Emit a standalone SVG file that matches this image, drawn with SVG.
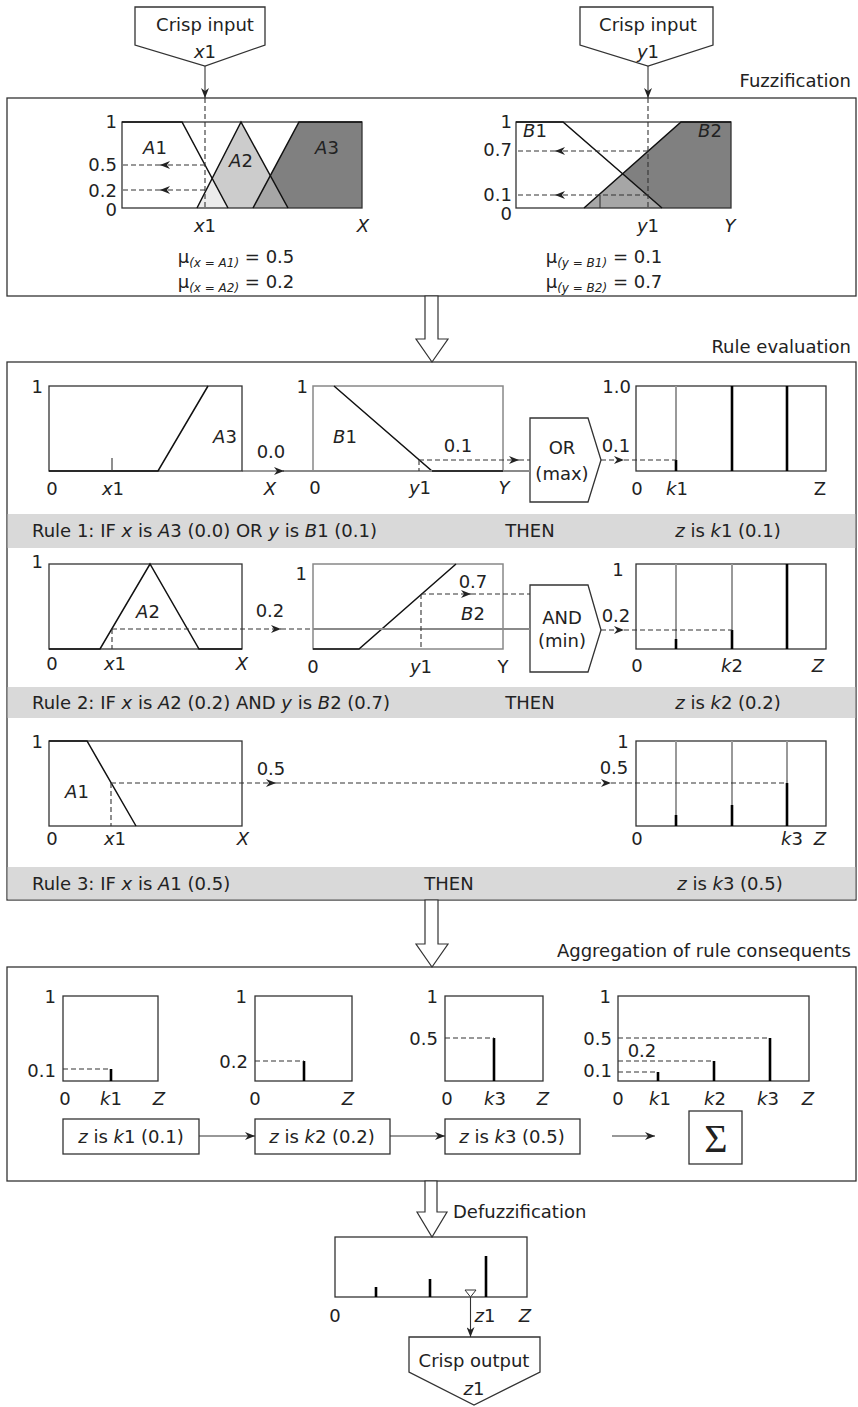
<svg xmlns="http://www.w3.org/2000/svg" width="858" height="1407" viewBox="0 0 858 1407">
<defs>
<marker id="ah" viewBox="0 0 10 8" refX="10" refY="4" markerWidth="10" markerHeight="8" markerUnits="userSpaceOnUse" orient="auto"><path d="M0,0 L10,4 L0,8 L3,4 z" fill="#222"/></marker>
<style>
text{font-family:"DejaVu Sans",sans-serif;font-size:18px;fill:#222}
.m{text-anchor:middle}.e{text-anchor:end}
.i{font-style:italic}
.sub{font-size:12px;font-style:italic}
.frame{fill:#fff;stroke:#333;stroke-width:1.3}
.chart{fill:none;stroke:#333;stroke-width:1.3}
.gchart{fill:none;stroke:#888;stroke-width:1.5}
.mf{fill:none;stroke:#111;stroke-width:1.5}
.dash{fill:none;stroke:#333;stroke-width:1.1;stroke-dasharray:5 3}
.sol{fill:none;stroke:#333;stroke-width:1.1}
.gl{fill:none;stroke:#8a8a8a;stroke-width:2}
.gv{stroke:#999;stroke-width:2}
.bar{stroke:#000;stroke-width:2.6}
.band{fill:#d9d9d9}
.hollow{fill:#fff;stroke:#333;stroke-width:1.2}
</style>
</defs>
<rect width="858" height="1407" fill="#fff"/>

<!-- Crisp inputs -->
<g id="input-x1">
<polygon class="frame" points="135,7 265,7 265,45 205,66 135,45"/>
<text class="m" x="205" y="31">Crisp input</text>
<text class="m" x="205" y="58"><tspan class="i">x</tspan>1</text>
</g>
<g id="input-y1">
<polygon class="frame" points="580,7 713,7 713,45 648,66 580,45"/>
<text class="m" x="648" y="31">Crisp input</text>
<text class="m" x="648" y="58"><tspan class="i">y</tspan>1</text>
</g>

<!-- Fuzzification -->
<g id="fuzzification">
<rect class="frame" x="7" y="98" width="849" height="198"/>
<text class="e" x="851" y="87">Fuzzification</text>
</g>
<g id="fuzz-A">
<polygon points="253,208 299,122 362,122 362,208" fill="#808080"/>
<polygon points="197,208 241,122 288,208" fill="#cccccc"/>
<polygon points="197,208 212.2,178.4 228,208" fill="#ececec"/>
<polygon points="253,208 270.3,175.6 288,208" fill="#a6a6a6"/>
<rect class="chart" x="122" y="122" width="240" height="86"/>
<polyline class="mf" points="122,122 182,122 228,208"/>
<polyline class="mf" points="197,208 241,122 288,208"/>
<polyline class="mf" points="253,208 299,122 362,122"/>
<text class="e" x="117" y="128">1</text>
<text class="e" x="117" y="171">0.5</text>
<text class="e" x="117" y="197">0.2</text>
<text class="e" x="117" y="216">0</text>
<text class="m" x="155" y="154"><tspan class="i">A</tspan>1</text>
<text class="m" x="241" y="167"><tspan class="i">A</tspan>2</text>
<text class="m" x="327" y="154"><tspan class="i">A</tspan>3</text>
<text class="m" x="205" y="232"><tspan class="i">x</tspan>1</text>
<text class="m i" x="363" y="232">X</text>
<text class="m" x="236" y="263">μ<tspan class="sub" dy="4">(x = A1)</tspan><tspan dy="-4"> = 0.5</tspan></text>
<text class="m" x="236" y="288">μ<tspan class="sub" dy="4">(x = A2)</tspan><tspan dy="-4"> = 0.2</tspan></text>
</g>
<g id="fuzz-B">
<polygon points="622.6,173.8 681,122 731,122 731,208 662,208" fill="#808080"/>
<polygon points="584,208 622.6,173.8 662,208" fill="#a6a6a6"/>
<rect class="chart" x="516" y="122" width="215" height="86"/>
<polyline class="mf" points="516,122 563,122 662,208"/>
<polyline class="mf" points="584,208 681,122 731,122"/>
<line class="sol" x1="600" y1="195" x2="600" y2="208"/>
<text class="e" x="512" y="128">1</text>
<text class="e" x="512" y="156">0.7</text>
<text class="e" x="512" y="201">0.1</text>
<text class="e" x="512" y="220">0</text>
<text class="m" x="535" y="137"><tspan class="i">B</tspan>1</text>
<text class="m" x="710" y="137"><tspan class="i">B</tspan>2</text>
<text class="m" x="648" y="232"><tspan class="i">y</tspan>1</text>
<text class="m i" x="730" y="232">Y</text>
<text class="m" x="604" y="263">μ<tspan class="sub" dy="4">(y = B1)</tspan><tspan dy="-4"> = 0.1</tspan></text>
<text class="m" x="604" y="288">μ<tspan class="sub" dy="4">(y = B2)</tspan><tspan dy="-4"> = 0.7</tspan></text>
</g>

<!-- Rule evaluation -->
<g id="rule-evaluation">
<rect class="frame" x="7" y="362" width="849" height="538"/>
<text class="e" x="851" y="353">Rule evaluation</text>
<rect class="band" x="7.7" y="514" width="847.6" height="34"/>
<rect class="band" x="7.7" y="687" width="847.6" height="31"/>
<rect class="band" x="7.7" y="867" width="847.6" height="32.3"/>
</g>

<g id="rule1-A3">
<rect class="chart" x="49" y="386" width="193" height="85"/>
<polyline class="mf" points="49,471 158,471 208,386"/>
<line class="sol" x1="112" y1="458" x2="112" y2="471"/>
<text class="e" x="43" y="393">1</text>
<text class="m" x="225" y="443"><tspan class="i">A</tspan>3</text>
<text class="m" x="271" y="458">0.0</text>
<text class="m" x="52" y="495">0</text>
<text class="m" x="113" y="495"><tspan class="i">x</tspan>1</text>
<text class="m i" x="270" y="495">X</text>
</g>
<g id="rule1-B1">
<rect class="gchart" x="313" y="386" width="190" height="85"/>
<polyline class="mf" points="334,386 432,471 503,471"/>
<text class="e" x="308" y="393">1</text>
<text class="m" x="345" y="443"><tspan class="i">B</tspan>1</text>
<text class="m" x="458" y="452">0.1</text>
<text class="m" x="315" y="494">0</text>
<text class="m" x="420" y="494"><tspan class="i">y</tspan>1</text>
<text class="m i" x="504" y="494">Y</text>
</g>
<g id="rule1-OR">
<polygon class="frame" points="530,418 588,418 601,460 588,502 530,502"/>
<text class="m" x="562" y="454">OR</text>
<text class="m" x="562" y="480">(max)</text>
<text class="m" x="616" y="452">0.1</text>
</g>
<g id="rule1-consequent">
<rect class="chart" x="636" y="386" width="190" height="85"/>
<line class="gv" x1="676" y1="386" x2="676" y2="471"/>
<line class="bar" x1="676" y1="460" x2="676" y2="471"/>
<line class="bar" x1="732" y1="386" x2="732" y2="471"/>
<line class="bar" x1="787" y1="386" x2="787" y2="471"/>
<text class="e" x="631" y="393">1.0</text>
<text class="m" x="637" y="495">0</text>
<text class="m" x="677" y="495"><tspan class="i">k</tspan>1</text>
<text class="m" x="820" y="495">Z</text>
</g>
<g id="rule1-text">
<text x="32" y="537">Rule 1: IF <tspan class="i">x</tspan> is <tspan class="i">A</tspan>3 (0.0) OR <tspan class="i">y</tspan> is <tspan class="i">B</tspan>1 (0.1)</text>
<text class="m" x="530" y="537">THEN</text>
<text class="m" x="728" y="537"><tspan class="i">z</tspan> is <tspan class="i">k</tspan>1 (0.1)</text>
</g>

<g id="rule2-A2">
<rect class="chart" x="49" y="564" width="193" height="85"/>
<polyline class="mf" points="49,649 100,649 150,564 199,649 242,649"/>
<text class="e" x="43" y="568">1</text>
<text class="m" x="148" y="618"><tspan class="i">A</tspan>2</text>
<text class="m" x="270" y="617">0.2</text>
<text class="m" x="52" y="670">0</text>
<text class="m" x="115" y="670"><tspan class="i">x</tspan>1</text>
<text class="m i" x="242" y="670">X</text>
</g>
<g id="rule2-B2">
<rect class="gchart" x="313" y="564" width="190" height="85"/>
<polyline class="mf" points="313,649 359,649 456,564"/>
<text class="e" x="307" y="580">1</text>
<text class="m" x="473" y="588">0.7</text>
<text class="m" x="473" y="620"><tspan class="i">B</tspan>2</text>
<text class="m" x="313" y="673">0</text>
<text class="m" x="421" y="673"><tspan class="i">y</tspan>1</text>
<text class="m" x="503" y="673">Y</text>
</g>
<g id="rule2-AND">
<polygon class="frame" points="530,585 588,585 601,630 588,672 530,672"/>
<text class="m" x="562" y="624">AND</text>
<text class="m" x="562" y="647">(min)</text>
<text class="m" x="616" y="622">0.2</text>
</g>
<g id="rule2-consequent">
<rect class="chart" x="636" y="564" width="190" height="85"/>
<line class="gv" x1="676" y1="564" x2="676" y2="649"/>
<line class="bar" x1="676" y1="639" x2="676" y2="649"/>
<line class="gv" x1="732" y1="564" x2="732" y2="649"/>
<line class="bar" x1="732" y1="630" x2="732" y2="649"/>
<line class="bar" x1="787" y1="564" x2="787" y2="649"/>
<text class="m" x="618" y="576">1</text>
<text class="m" x="637" y="672">0</text>
<text class="m" x="732" y="672"><tspan class="i">k</tspan>2</text>
<text class="m i" x="818" y="672">Z</text>
</g>
<g id="rule2-text">
<text x="32" y="709">Rule 2: IF <tspan class="i">x</tspan> is <tspan class="i">A</tspan>2 (0.2) AND <tspan class="i">y</tspan> is <tspan class="i">B</tspan>2 (0.7)</text>
<text class="m" x="530" y="709">THEN</text>
<text class="m" x="728" y="709"><tspan class="i">z</tspan> is <tspan class="i">k</tspan>2 (0.2)</text>
</g>

<g id="rule3-A1">
<rect class="chart" x="49" y="741" width="193" height="85"/>
<polyline class="mf" points="49,741 87,741 136,826"/>
<text class="e" x="43" y="748">1</text>
<text class="m" x="77" y="798"><tspan class="i">A</tspan>1</text>
<text class="m" x="271" y="775">0.5</text>
<text class="m" x="52" y="845">0</text>
<text class="m" x="115" y="845"><tspan class="i">x</tspan>1</text>
<text class="m i" x="243" y="845">X</text>
</g>
<g id="rule3-consequent">
<rect class="chart" x="636" y="741" width="190" height="85"/>
<line class="gv" x1="676" y1="741" x2="676" y2="826"/>
<line class="bar" x1="676" y1="815" x2="676" y2="826"/>
<line class="gv" x1="732" y1="741" x2="732" y2="826"/>
<line class="bar" x1="732" y1="805" x2="732" y2="826"/>
<line class="gv" x1="787" y1="741" x2="787" y2="826"/>
<line class="bar" x1="787" y1="783" x2="787" y2="826"/>
<text class="m" x="623" y="748">1</text>
<text class="m" x="614" y="774">0.5</text>
<text class="m" x="637" y="845">0</text>
<text class="m" x="792" y="845"><tspan class="i">k</tspan>3</text>
<text class="m i" x="820" y="845">Z</text>
</g>
<g id="rule3-text">
<text x="32" y="890">Rule 3: IF <tspan class="i">x</tspan> is <tspan class="i">A</tspan>1 (0.5)</text>
<text class="m" x="449" y="890">THEN</text>
<text class="m" x="730" y="890"><tspan class="i">z</tspan> is <tspan class="i">k</tspan>3 (0.5)</text>
</g>

<!-- Aggregation -->
<g id="aggregation">
<rect class="frame" x="7" y="967" width="849" height="214"/>
<text class="e" x="851" y="957">Aggregation of rule consequents</text>
</g>
<g id="agg-k1">
<rect class="chart" x="63" y="996" width="95" height="85"/>
<line class="bar" x1="111" y1="1069" x2="111" y2="1081"/>
<text class="e" x="56" y="1003">1</text>
<text class="e" x="56" y="1077">0.1</text>
<text class="m" x="65" y="1105">0</text>
<text class="m" x="111" y="1105"><tspan class="i">k</tspan>1</text>
<text class="m i" x="159" y="1105">Z</text>
</g>
<g id="agg-k2">
<rect class="chart" x="255" y="996" width="97" height="85"/>
<line class="bar" x1="304" y1="1061" x2="304" y2="1081"/>
<text class="e" x="247" y="1003">1</text>
<text class="e" x="248" y="1068">0.2</text>
<text class="m" x="255" y="1105">0</text>
<text class="m i" x="348" y="1105">Z</text>
</g>
<g id="agg-k3">
<rect class="chart" x="445" y="996" width="98" height="85"/>
<line class="bar" x1="494" y1="1038" x2="494" y2="1081"/>
<text class="e" x="438" y="1003">1</text>
<text class="e" x="438" y="1045">0.5</text>
<text class="m" x="447" y="1105">0</text>
<text class="m" x="495" y="1105"><tspan class="i">k</tspan>3</text>
<text class="m i" x="543" y="1105">Z</text>
</g>
<g id="agg-sum-chart">
<rect class="chart" x="618" y="996" width="191" height="85"/>
<line class="bar" x1="658" y1="1072" x2="658" y2="1081"/>
<line class="bar" x1="714" y1="1061" x2="714" y2="1081"/>
<line class="bar" x1="770" y1="1038" x2="770" y2="1081"/>
<text class="e" x="611" y="1003">1</text>
<text class="e" x="612" y="1045">0.5</text>
<text class="m" x="642" y="1057">0.2</text>
<text class="e" x="612" y="1077">0.1</text>
<text class="m" x="618" y="1105">0</text>
<text class="m" x="660" y="1105"><tspan class="i">k</tspan>1</text>
<text class="m" x="715" y="1105"><tspan class="i">k</tspan>2</text>
<text class="m" x="768" y="1105"><tspan class="i">k</tspan>3</text>
<text class="m i" x="808" y="1105">Z</text>
</g>
<g id="box-k1">
<rect class="frame" x="63" y="1119" width="136" height="35"/>
<text class="m" x="131" y="1143"><tspan class="i">z</tspan> is <tspan class="i">k</tspan>1 (0.1)</text>
</g>
<g id="box-k2">
<rect class="frame" x="255" y="1119" width="135" height="35"/>
<text class="m" x="322" y="1143"><tspan class="i">z</tspan> is <tspan class="i">k</tspan>2 (0.2)</text>
</g>
<g id="box-k3">
<rect class="frame" x="445" y="1119" width="135" height="35"/>
<text class="m" x="512" y="1143"><tspan class="i">z</tspan> is <tspan class="i">k</tspan>3 (0.5)</text>
</g>
<g id="box-sum">
<rect class="frame" x="689" y="1111" width="53" height="53"/>
<text class="m" x="716" y="1152" style="font-family:'Liberation Serif',serif;font-size:40px">Σ</text>
</g>

<!-- Defuzzification -->
<g id="defuzzification">
<text x="453" y="1218">Defuzzification</text>
<rect class="chart" x="335" y="1237" width="192" height="60"/>
<line class="bar" x1="376" y1="1287" x2="376" y2="1297"/>
<line class="bar" x1="430" y1="1279" x2="430" y2="1297"/>
<line class="bar" x1="486" y1="1256" x2="486" y2="1297"/>
<polygon points="465,1290 476,1290 470.5,1297" fill="#fff" stroke="#333" stroke-width="1"/>
<text class="m" x="335" y="1322">0</text>
<text class="m" x="485" y="1322"><tspan class="i">z</tspan>1</text>
<text class="m i" x="525" y="1322">Z</text>
</g>
<g id="output-z1">
<polygon class="frame" points="409,1337 540,1337 540,1372 474,1405 409,1372"/>
<text class="m" x="474" y="1367">Crisp output</text>
<text class="m" x="474" y="1395"><tspan class="i">z</tspan>1</text>
</g>

<!-- Connectors -->
<g id="connectors">
<line class="sol" x1="205" y1="66" x2="205" y2="98" marker-end="url(#ah)"/>
<line class="sol" x1="648" y1="66" x2="648" y2="98" marker-end="url(#ah)"/>
<line class="dash" x1="205" y1="98" x2="205" y2="208"/>
<line class="dash" x1="205" y1="165" x2="160" y2="165" marker-end="url(#ah)"/>
<line class="dash" x1="160" y1="165" x2="122" y2="165"/>
<line class="dash" x1="205" y1="190" x2="160" y2="190" marker-end="url(#ah)"/>
<line class="dash" x1="160" y1="190" x2="122" y2="190"/>
<line class="dash" x1="648" y1="98" x2="648" y2="208"/>
<line class="dash" x1="648" y1="151" x2="555" y2="151" marker-end="url(#ah)"/>
<line class="dash" x1="555" y1="151" x2="516" y2="151"/>
<line class="dash" x1="648" y1="195" x2="555" y2="195" marker-end="url(#ah)"/>
<line class="dash" x1="555" y1="195" x2="516" y2="195"/>

<polygon class="hollow" points="425,296 438,296 438,339 448,339 432,362 416,339 425,339"/>
<polygon class="hollow" points="425,900 438,900 438,944 448,944 432,967 416,944 425,944"/>
<polygon class="hollow" points="425,1181 437,1181 437,1212 447,1212 432,1237 417,1212 425,1212"/>

<line class="gl" x1="283" y1="471" x2="530" y2="471"/>
<line class="mf" x1="432" y1="471" x2="503" y2="471"/>
<line class="sol" x1="242" y1="471" x2="284" y2="471" stroke-width="1.4" marker-end="url(#ah)"/>
<line class="dash" x1="419" y1="460" x2="419" y2="471"/>
<line class="dash" x1="419" y1="460" x2="519" y2="460" marker-end="url(#ah)"/>
<line class="dash" x1="519" y1="460" x2="530" y2="460"/>
<line class="dash" x1="601" y1="460" x2="624" y2="460" marker-end="url(#ah)"/>
<line class="dash" x1="624" y1="460" x2="676" y2="460"/>

<line class="dash" x1="112" y1="629" x2="112" y2="649"/>
<line class="dash" x1="112" y1="629" x2="281" y2="629" marker-end="url(#ah)"/>
<line class="dash" x1="281" y1="629" x2="313" y2="629"/>
<line class="gl" x1="313" y1="629" x2="530" y2="629"/>
<line class="dash" x1="421" y1="594" x2="421" y2="649"/>
<line class="dash" x1="421" y1="594" x2="471" y2="594" marker-end="url(#ah)"/>
<line class="dash" x1="471" y1="594" x2="530" y2="594"/>
<line class="dash" x1="601" y1="630" x2="624" y2="630" marker-end="url(#ah)"/>
<line class="dash" x1="624" y1="630" x2="732" y2="630"/>

<line class="dash" x1="111" y1="783" x2="111" y2="826"/>
<line class="dash" x1="111" y1="783" x2="276" y2="783" marker-end="url(#ah)"/>
<line class="dash" x1="276" y1="783" x2="611" y2="783" marker-end="url(#ah)"/>
<line class="dash" x1="611" y1="783" x2="787" y2="783"/>

<line class="dash" x1="63" y1="1069" x2="111" y2="1069"/>
<line class="dash" x1="255" y1="1061" x2="304" y2="1061"/>
<line class="dash" x1="445" y1="1038" x2="494" y2="1038"/>
<line class="dash" x1="618" y1="1038" x2="770" y2="1038"/>
<line class="dash" x1="618" y1="1061" x2="714" y2="1061"/>
<line class="dash" x1="618" y1="1072" x2="658" y2="1072"/>

<line class="sol" x1="199" y1="1136" x2="255" y2="1136" stroke="#666" marker-end="url(#ah)"/>
<line class="sol" x1="390" y1="1136" x2="445" y2="1136" stroke="#666" marker-end="url(#ah)"/>
<line class="sol" x1="612" y1="1136" x2="655" y2="1136" stroke="#666" marker-end="url(#ah)"/>

<line class="sol" x1="470.5" y1="1297" x2="470.5" y2="1337" marker-end="url(#ah)"/>
</g>
</svg>
